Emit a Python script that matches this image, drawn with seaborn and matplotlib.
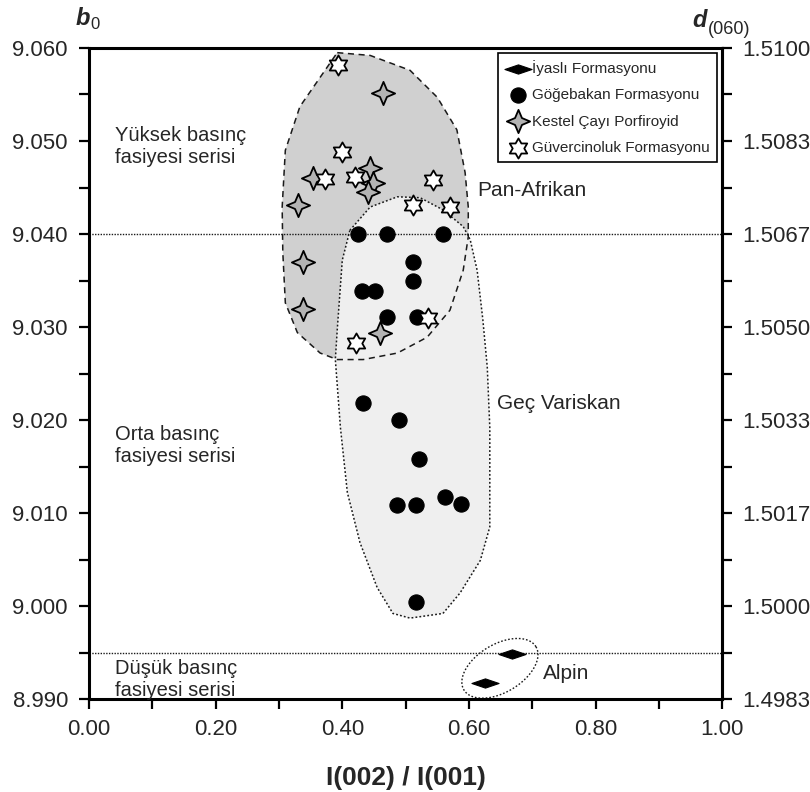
import numpy as np
import pandas as pd
import matplotlib
matplotlib.use('Agg')
import matplotlib.pyplot as plt
from matplotlib.path import Path
from matplotlib.ticker import FixedLocator
from matplotlib.font_manager import FontProperties
import seaborn as sns

# --- veriler ---
iyasli_x = [0.668, 0.626]
iyasli_b = [8.9948, 8.9917]

gogebakan_x = [0.425, 0.471, 0.559, 0.512, 0.512, 0.431, 0.452, 0.471, 0.518,
               0.433, 0.490, 0.521, 0.486, 0.517, 0.562, 0.588, 0.517]
gogebakan_b = [9.0400, 9.0400, 9.0400, 9.0370, 9.0349, 9.0339, 9.0339, 9.0311, 9.0311,
               9.0218, 9.0200, 9.0158, 9.0109, 9.0109, 9.0117, 9.0110, 9.0004]

kestel_x = [0.465, 0.354, 0.444, 0.449, 0.441, 0.330, 0.338, 0.338, 0.460]
kestel_b = [9.0552, 9.0460, 9.0471, 9.0455, 9.0445, 9.0431, 9.0370, 9.0319, 9.0294]

guvercin_x = [0.393, 0.400, 0.373, 0.420, 0.543, 0.512, 0.570, 0.535, 0.422]
guvercin_b = [9.0582, 9.0488, 9.0459, 9.0461, 9.0458, 9.0431, 9.0429, 9.0310, 9.0283]

# alan sinirlari
pan_x = [0.392, 0.444, 0.507, 0.550, 0.581, 0.594, 0.599, 0.599, 0.591, 0.570, 0.534,
         0.487, 0.433, 0.392, 0.365, 0.329, 0.310, 0.306, 0.305, 0.310, 0.333]
pan_b = [9.0595, 9.0592, 9.0576, 9.0547, 9.0512, 9.0466, 9.0429, 9.0397, 9.0361, 9.0318, 9.0289,
         9.0272, 9.0265, 9.0265, 9.0272, 9.0294, 9.0326, 9.0380, 9.0429, 9.0490, 9.0537]

gec_x = [0.412, 0.444, 0.487, 0.523, 0.559, 0.591, 0.602, 0.613, 0.622, 0.629, 0.633, 0.633,
         0.618, 0.586, 0.559, 0.507, 0.480, 0.455, 0.428, 0.408, 0.397, 0.389, 0.392, 0.400]
gec_b = [9.0404, 9.0429, 9.0440, 9.0439, 9.0426, 9.0408, 9.0394, 9.0361, 9.0308, 9.0257, 9.0192, 9.0085,
         9.0049, 9.0014, 8.9992, 8.9987, 8.9992, 9.0020, 9.0068, 9.0122, 9.0192, 9.0265, 9.0297, 9.0372]

x_ticks = [0.0, 0.2, 0.4, 0.6, 0.8, 1.0]
x_minor = [0.1, 0.3, 0.5, 0.7, 0.9]
b_ticks = [8.990, 9.000, 9.010, 9.020, 9.030, 9.040, 9.050, 9.060]
b_minor = [8.995, 9.005, 9.015, 9.025, 9.035, 9.045, 9.055]
facies_lines = [9.040, 8.995]


def b_to_d(b):
    return 1.5 + (np.asarray(b) - 9.0) / 6.0


def d_to_b(d):
    return 9.0 + (np.asarray(d) - 1.5) * 6.0


def star_marker(n, inner):
    return Path.unit_regular_star(n, inner)


diamond = Path([(-1, 0), (0, 0.34), (1, 0), (0, -0.34), (-1, 0)],
               [Path.MOVETO, Path.LINETO, Path.LINETO, Path.LINETO, Path.CLOSEPOLY])

sns.set_theme(style='white')
plt.rcParams['font.family'] = ['Liberation Sans', 'DejaVu Sans']

fig = plt.figure(figsize=(8.1, 7.92), dpi=100)
ax = fig.add_axes([0.110, 0.1174, 0.7815, 0.822])
ax.set_xlim(0, 1)
ax.set_ylim(8.990, 9.060)

# alanlar
ax.fill(pan_x, pan_b, color='#d0d0d0', lw=0, zorder=1)
ax.fill(gec_x, gec_b, color='#efefef', lw=0, zorder=1.2)
ax.plot(pan_x + pan_x[:1], pan_b + pan_b[:1], color='k', ls=(0, (4, 3)), lw=1.1, zorder=2)
ax.plot(gec_x + gec_x[:1], gec_b + gec_b[:1], color='k', ls=(0, (1.2, 1.4)), lw=1.1, zorder=2)

# Alpin elipsi (piksel cinsinden)
t = np.linspace(0, 2 * np.pi, 120)
a_px, c_px, ang = 42, 24, np.deg2rad(31)
ox = a_px * np.cos(t) * np.cos(ang) - c_px * np.sin(t) * np.sin(ang)
oy = a_px * np.cos(t) * np.sin(ang) + c_px * np.sin(t) * np.cos(ang)
cen = ax.transData.transform((0.649, 8.9933))
ell = ax.transData.inverted().transform(np.column_stack([cen[0] + ox, cen[1] + oy]))
ax.plot(ell[:, 0], ell[:, 1], color='k', ls=(0, (1.2, 1.4)), lw=1.0, zorder=2)

for yv in facies_lines:
    ax.axhline(yv, color='k', ls=(0, (1, 1)), lw=1.0, zorder=2.5)

# noktalar
sns.scatterplot(x=iyasli_x, y=iyasli_b, marker=diamond, s=380, color='black',
                edgecolor='black', linewidth=0.8, label='İyaslı Formasyonu', ax=ax, zorder=3)
sns.scatterplot(x=gogebakan_x, y=gogebakan_b, marker='o', s=120, color='black',
                edgecolor='black', linewidth=0.8, label='Göğebakan Formasyonu', ax=ax, zorder=3)
sns.scatterplot(x=kestel_x, y=kestel_b, marker=star_marker(4, 0.42), s=280, color='#b3b3b3',
                edgecolor='black', linewidth=1.3, label='Kestel Çayı Porfiroyid', ax=ax, zorder=3)
sns.scatterplot(x=guvercin_x, y=guvercin_b, marker=star_marker(6, 0.577), s=210, color='white',
                edgecolor='black', linewidth=1.3, label='Güvercinoluk Formasyonu', ax=ax, zorder=3)

leg = ax.legend(loc='upper right', bbox_to_anchor=(0.992, 0.992), frameon=True, fancybox=False,
                framealpha=1, edgecolor='black', borderpad=0.45, handlelength=1.7,
                handletextpad=0.1, labelspacing=0.8, borderaxespad=0,
                prop=FontProperties(family=['Liberation Sans Narrow', 'Liberation Sans'], size=11))
leg.get_frame().set_linewidth(1.2)
leg.set_zorder(5)

# yazilar
ax.text(0.041, 9.0516, 'Yüksek basınç\nfasiyesi serisi', fontsize=14.5, va='top', ha='left')
ax.text(0.041, 9.0195, 'Orta basınç\nfasiyesi serisi', fontsize=14.5, va='top', ha='left')
ax.text(0.041, 8.9943, 'Düşük basınç\nfasiyesi serisi', fontsize=14.5, va='top', ha='left')
ax.text(0.613, 9.0447, 'Pan-Afrikan', fontsize=15, va='center', ha='left')
ax.text(0.645, 9.0218, 'Geç Variskan', fontsize=15, va='center', ha='left')
ax.text(0.717, 8.9927, 'Alpin', fontsize=15, va='center', ha='left')

# eksenler
ax.xaxis.set_major_locator(FixedLocator(x_ticks))
ax.xaxis.set_minor_locator(FixedLocator(x_minor))
ax.set_xticklabels([f'{v:.2f}' for v in x_ticks])
ax.yaxis.set_major_locator(FixedLocator(b_ticks))
ax.yaxis.set_minor_locator(FixedLocator(b_minor))
ax.set_yticklabels([f'{v:.3f}' for v in b_ticks])
ax.tick_params(which='both', direction='out', length=7.2, width=1.6, color='black',
               bottom=True, left=True, top=False, right=False)
ax.tick_params(axis='x', which='major', labelsize=16, pad=7)
ax.tick_params(axis='y', which='major', labelsize=16, pad=8)
for sp in ax.spines.values():
    sp.set_linewidth(2.2)
    sp.set_color('black')

sec = ax.secondary_yaxis('right', functions=(b_to_d, d_to_b))
sec.yaxis.set_major_locator(FixedLocator(list(b_to_d(b_ticks))))
sec.yaxis.set_minor_locator(FixedLocator(list(b_to_d(b_minor))))
sec.set_yticklabels([f'{v:.4f}' for v in b_to_d(b_ticks)])
sec.tick_params(which='both', direction='out', length=7.2, width=1.6, color='black')
sec.tick_params(which='major', labelsize=16, pad=7)
sec.spines['right'].set_linewidth(2.2)

ax.set_xlabel('I(002) / I(001)', fontsize=19, fontweight='bold')
ax.xaxis.set_label_coords(0.5, -0.121)
ax.xaxis.label.set_va('center')

b_txt = ax.text(-0.022, 1.035, 'b', transform=ax.transAxes, fontsize=17, fontweight='bold',
                style='italic', va='baseline', ha='left')
ax.annotate('0', xy=(1, 0), xycoords=b_txt, xytext=(0.5, -1.5), textcoords='offset points',
            fontsize=12, va='bottom', ha='left')
d_txt = ax.text(0.953, 1.032, 'd', transform=ax.transAxes, fontsize=17, fontweight='bold',
                style='italic', va='baseline', ha='left')
ax.annotate('(060)', xy=(1, 0), xycoords=d_txt, xytext=(0.5, -4), textcoords='offset points',
            fontsize=13, va='bottom', ha='left')

fig.savefig('out.png', dpi=100)
